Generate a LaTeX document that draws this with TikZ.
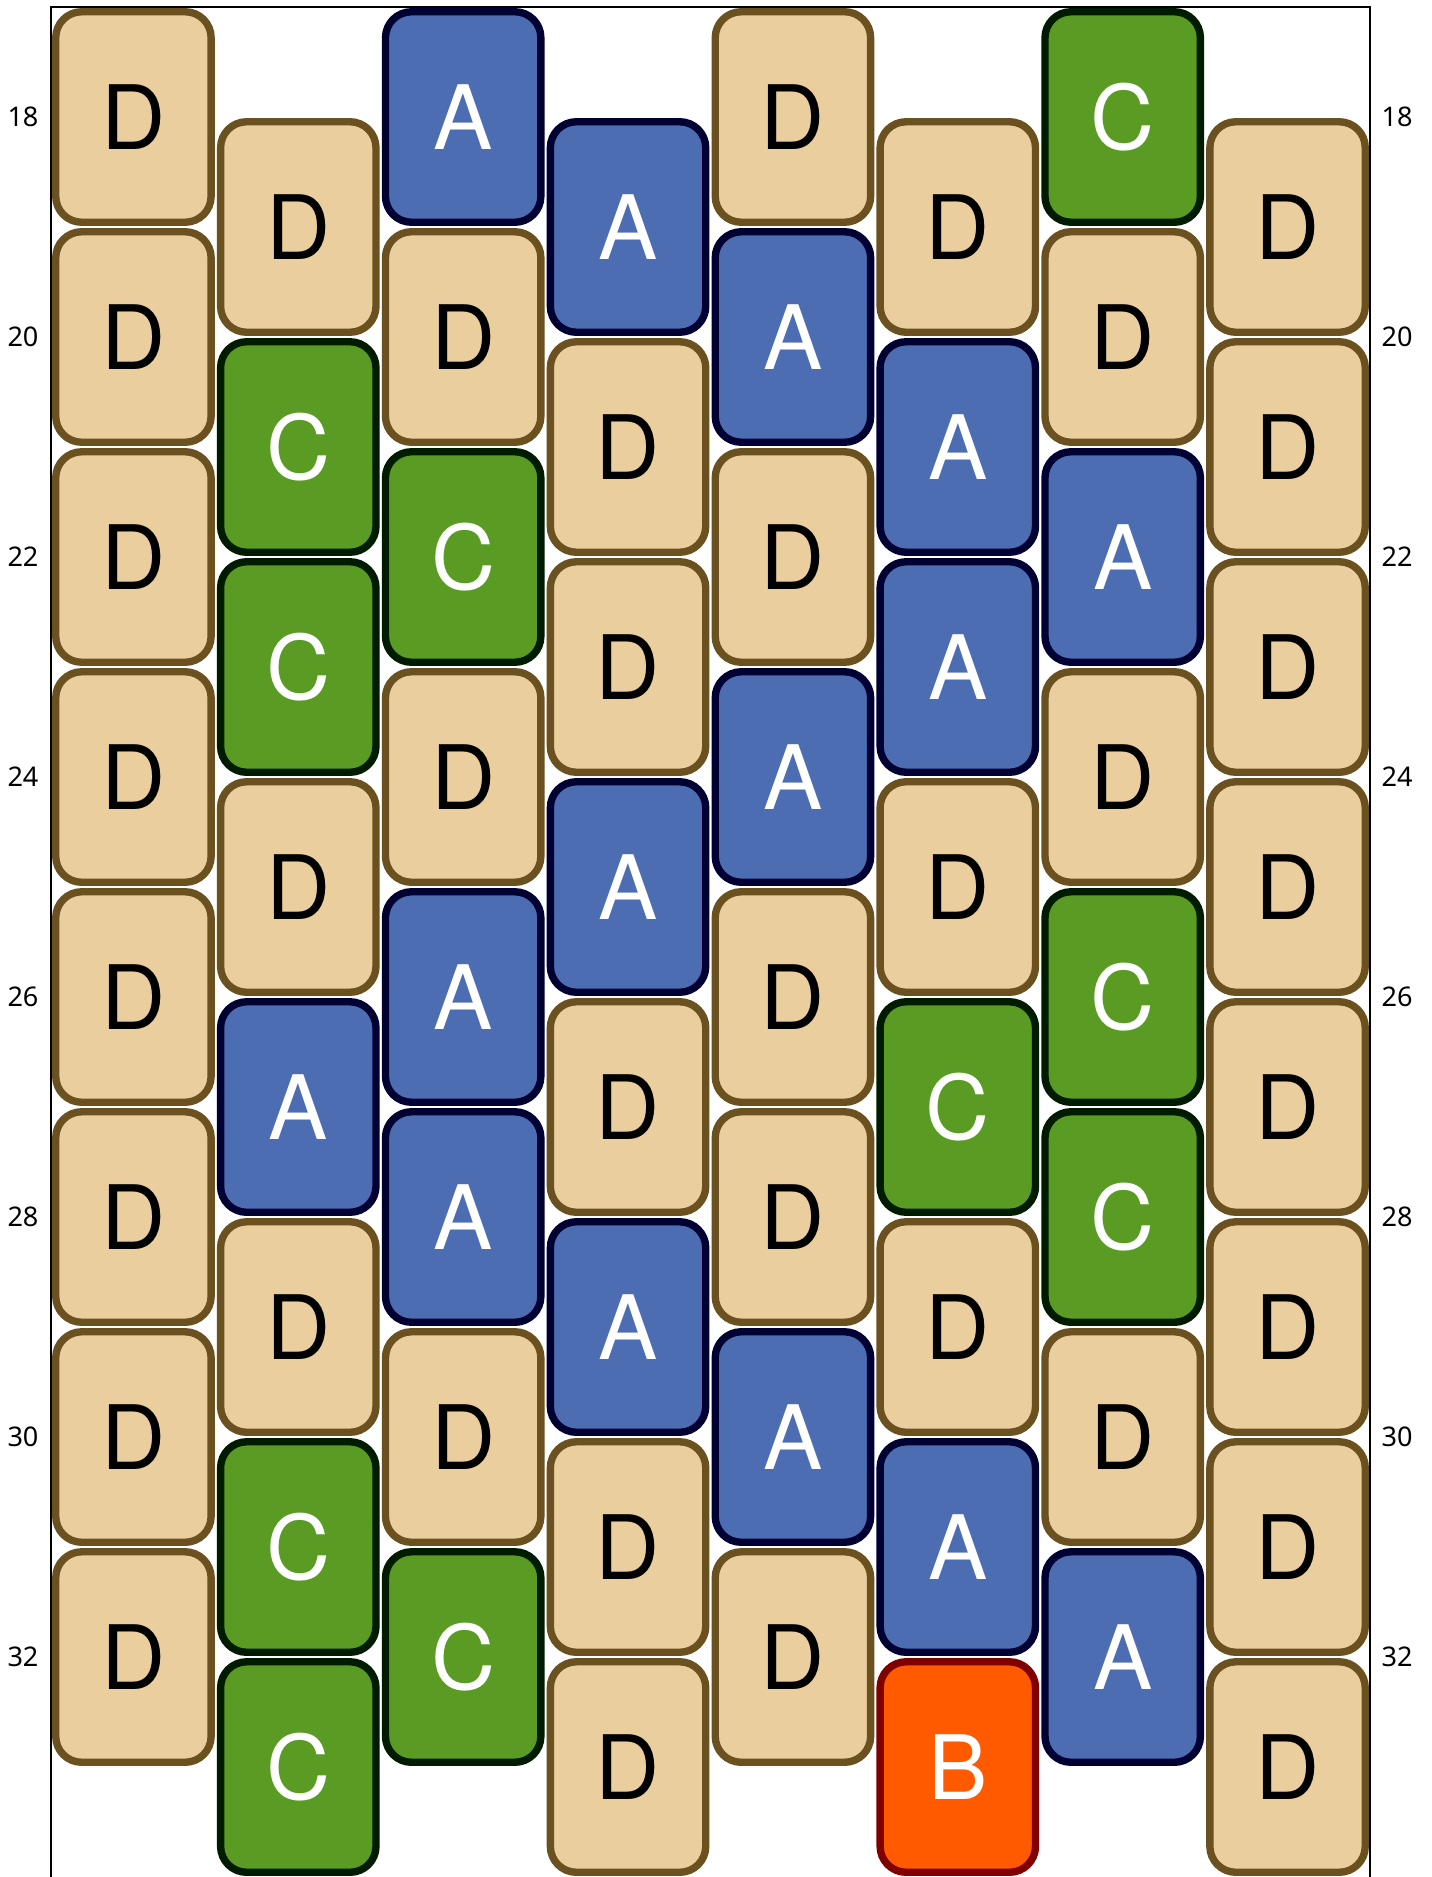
\documentclass[tikz,border=0pt]{standalone}
\usepackage{fontspec}
\setmainfont{Noto Sans}
\newfontfamily\tilefont{TeX Gyre Heros}
\definecolor{beigeD}{HTML}{EACE9E}
\definecolor{brownD}{HTML}{6B5020}
\definecolor{blueA}{HTML}{4C6DB2}
\definecolor{navyA}{HTML}{000033}
\definecolor{greenC}{HTML}{5A9B24}
\definecolor{darkC}{HTML}{001C00}
\definecolor{orangeB}{HTML}{FF5A00}
\definecolor{maroonB}{HTML}{800000}

\begin{document}
\begin{tikzpicture}[x=1.64875cm, y=-1.1cm,
  tile/.style={rectangle, rounded corners=2.6mm, line width=2.1pt, minimum width=15.54mm, minimum height=21.05mm, inner sep=0pt, font=\tilefont\fontsize{25.3}{30}\selectfont},
  tileD/.style={tile, draw=brownD, fill=beigeD, text=black},
  tileA/.style={tile, draw=navyA, fill=blueA, text=white},
  tileC/.style={tile, draw=darkC, fill=greenC, text=white},
  tileB/.style={tile, draw=maroonB, fill=orangeB, text=white},
  tick/.style={inner sep=0pt, font=\fontsize{7.7}{9}\selectfont}]
\useasboundingbox (-0.3093,16.9364) rectangle (8.3700,34);
\draw[line width=0.6pt] (0,34) -- (0,17) -- (8,17) -- (8,34);
\node[tileD] (c1y18) at (0.5,18) {D};
\node[tileD] (c1y20) at (0.5,20) {D};
\node[tileD] (c1y22) at (0.5,22) {D};
\node[tileD] (c1y24) at (0.5,24) {D};
\node[tileD] (c1y26) at (0.5,26) {D};
\node[tileD] (c1y28) at (0.5,28) {D};
\node[tileD] (c1y30) at (0.5,30) {D};
\node[tileD] (c1y32) at (0.5,32) {D};
\node[tileD] (c2y19) at (1.5,19) {D};
\node[tileC] (c2y21) at (1.5,21) {C};
\node[tileC] (c2y23) at (1.5,23) {C};
\node[tileD] (c2y25) at (1.5,25) {D};
\node[tileA] (c2y27) at (1.5,27) {A};
\node[tileD] (c2y29) at (1.5,29) {D};
\node[tileC] (c2y31) at (1.5,31) {C};
\node[tileC] (c2y33) at (1.5,33) {C};
\node[tileA] (c3y18) at (2.5,18) {A};
\node[tileD] (c3y20) at (2.5,20) {D};
\node[tileC] (c3y22) at (2.5,22) {C};
\node[tileD] (c3y24) at (2.5,24) {D};
\node[tileA] (c3y26) at (2.5,26) {A};
\node[tileA] (c3y28) at (2.5,28) {A};
\node[tileD] (c3y30) at (2.5,30) {D};
\node[tileC] (c3y32) at (2.5,32) {C};
\node[tileA] (c4y19) at (3.5,19) {A};
\node[tileD] (c4y21) at (3.5,21) {D};
\node[tileD] (c4y23) at (3.5,23) {D};
\node[tileA] (c4y25) at (3.5,25) {A};
\node[tileD] (c4y27) at (3.5,27) {D};
\node[tileA] (c4y29) at (3.5,29) {A};
\node[tileD] (c4y31) at (3.5,31) {D};
\node[tileD] (c4y33) at (3.5,33) {D};
\node[tileD] (c5y18) at (4.5,18) {D};
\node[tileA] (c5y20) at (4.5,20) {A};
\node[tileD] (c5y22) at (4.5,22) {D};
\node[tileA] (c5y24) at (4.5,24) {A};
\node[tileD] (c5y26) at (4.5,26) {D};
\node[tileD] (c5y28) at (4.5,28) {D};
\node[tileA] (c5y30) at (4.5,30) {A};
\node[tileD] (c5y32) at (4.5,32) {D};
\node[tileD] (c6y19) at (5.5,19) {D};
\node[tileA] (c6y21) at (5.5,21) {A};
\node[tileA] (c6y23) at (5.5,23) {A};
\node[tileD] (c6y25) at (5.5,25) {D};
\node[tileC] (c6y27) at (5.5,27) {C};
\node[tileD] (c6y29) at (5.5,29) {D};
\node[tileA] (c6y31) at (5.5,31) {A};
\node[tileB] (c6y33) at (5.5,33) {B};
\node[tileC] (c7y18) at (6.5,18) {C};
\node[tileD] (c7y20) at (6.5,20) {D};
\node[tileA] (c7y22) at (6.5,22) {A};
\node[tileD] (c7y24) at (6.5,24) {D};
\node[tileC] (c7y26) at (6.5,26) {C};
\node[tileC] (c7y28) at (6.5,28) {C};
\node[tileD] (c7y30) at (6.5,30) {D};
\node[tileA] (c7y32) at (6.5,32) {A};
\node[tileD] (c8y19) at (7.5,19) {D};
\node[tileD] (c8y21) at (7.5,21) {D};
\node[tileD] (c8y23) at (7.5,23) {D};
\node[tileD] (c8y25) at (7.5,25) {D};
\node[tileD] (c8y27) at (7.5,27) {D};
\node[tileD] (c8y29) at (7.5,29) {D};
\node[tileD] (c8y31) at (7.5,31) {D};
\node[tileD] (c8y33) at (7.5,33) {D};
\node[tick] (l18) at (-0.1698,18) {18};
\node[tick] (l20) at (-0.1698,20) {20};
\node[tick] (l22) at (-0.1698,22) {22};
\node[tick] (l24) at (-0.1698,24) {24};
\node[tick] (l26) at (-0.1698,26) {26};
\node[tick] (l28) at (-0.1698,28) {28};
\node[tick] (l30) at (-0.1698,30) {30};
\node[tick] (l32) at (-0.1698,32) {32};
\node[tick] (r18) at (8.1637,18) {18};
\node[tick] (r20) at (8.1637,20) {20};
\node[tick] (r22) at (8.1637,22) {22};
\node[tick] (r24) at (8.1637,24) {24};
\node[tick] (r26) at (8.1637,26) {26};
\node[tick] (r28) at (8.1637,28) {28};
\node[tick] (r30) at (8.1637,30) {30};
\node[tick] (r32) at (8.1637,32) {32};
\end{tikzpicture}
\end{document}
